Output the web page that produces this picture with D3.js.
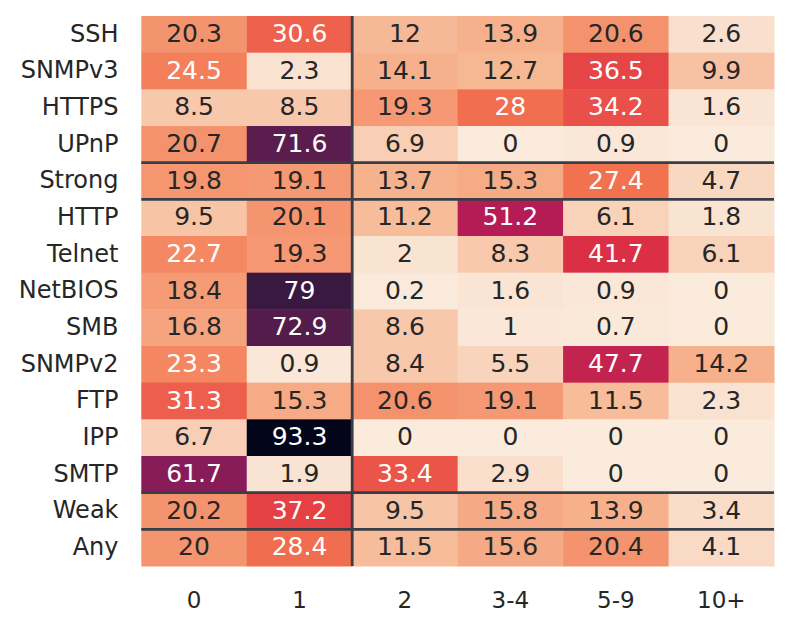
<!DOCTYPE html>
<html>
<head>
<meta charset="utf-8">
<script src="https://cdn.jsdelivr.net/npm/d3@7"></script>
<style>
  body { margin: 0; background: #fff; }
  text { font-family: "DejaVu Sans", sans-serif; }
</style>
</head>
<body>
<div id="chart"></div>
<script>
// rows, columns and the cell values (percent)
var rows = ["SSH", "SNMPv3", "HTTPS", "UPnP", "Strong", "HTTP", "Telnet", "NetBIOS", "SMB", "SNMPv2", "FTP", "IPP", "SMTP", "Weak", "Any"];
var cols = ["0", "1", "2", "3-4", "5-9", "10+"];
var values = [
  [20.3, 30.6, 12, 13.9, 20.6, 2.6],
  [24.5, 2.3, 14.1, 12.7, 36.5, 9.9],
  [8.5, 8.5, 19.3, 28, 34.2, 1.6],
  [20.7, 71.6, 6.9, 0, 0.9, 0],
  [19.8, 19.1, 13.7, 15.3, 27.4, 4.7],
  [9.5, 20.1, 11.2, 51.2, 6.1, 1.8],
  [22.7, 19.3, 2, 8.3, 41.7, 6.1],
  [18.4, 79, 0.2, 1.6, 0.9, 0],
  [16.8, 72.9, 8.6, 1, 0.7, 0],
  [23.3, 0.9, 8.4, 5.5, 47.7, 14.2],
  [31.3, 15.3, 20.6, 19.1, 11.5, 2.3],
  [6.7, 93.3, 0, 0, 0, 0],
  [61.7, 1.9, 33.4, 2.9, 0, 0],
  [20.2, 37.2, 9.5, 15.8, 13.9, 3.4],
  [20, 28.4, 11.5, 15.6, 20.4, 4.1]
];
// group separators drawn after these rows / columns
var rowBreaks = ["UPnP", "Strong", "SMTP", "Weak"];
var colBreaks = ["1"];

var width = 790, height = 628;
var mLeft = 141.3, mTop = 16, mRight = 774, mBottom = 566;

var svg = d3.select("#chart")
  .append("svg")
  .attr("width", width)
  .attr("height", height);

var x = d3.scaleBand().domain(cols).range([mLeft, mRight]);
var y = d3.scaleBand().domain(rows).range([mTop, mBottom]);

// rocket colormap, reversed (0 -> light, max -> dark)
var vmax = d3.max(values, function(r) { return d3.max(r); });
var rocket = d3.scaleLinear()
  .domain([0, 1/7, 2/7, 3/7, 4/7, 5/7, 6/7, 1])
  .range(["#03051a", "#35193e", "#701f57", "#ad1759", "#e13342", "#f37651", "#f6b48f", "#faebdd"])
  .interpolate(d3.interpolateRgb);
var color = function(v) { return rocket(1 - v / vmax); };

function lum(c) {
  var rgb = d3.rgb(c);
  var f = function(u) { u = u / 255; return u <= 0.03928 ? u / 12.92 : Math.pow((u + 0.055) / 1.055, 2.4); };
  return 0.2126 * f(rgb.r) + 0.7152 * f(rgb.g) + 0.0722 * f(rgb.b);
}

var cells = [];
values.forEach(function(r, i) {
  r.forEach(function(v, j) { cells.push({row: rows[i], col: cols[j], value: v}); });
});

svg.selectAll("rect.cell")
  .data(cells)
  .enter()
  .append("rect")
    .attr("class", "cell")
    .attr("x", function(d) { return x(d.col); })
    .attr("y", function(d) { return y(d.row); })
    .attr("width", x.bandwidth() + 0.5)
    .attr("height", y.bandwidth() + 0.5)
    .attr("fill", function(d) { return color(d.value); });

svg.selectAll("text.annot")
  .data(cells)
  .enter()
  .append("text")
    .attr("class", "annot")
    .attr("x", function(d) { return x(d.col) + x.bandwidth() / 2; })
    .attr("y", function(d) { return y(d.row) + y.bandwidth() / 2 + 7.6; })
    .attr("text-anchor", "middle")
    .style("font-size", "25px")
    .style("fill", function(d) { return lum(color(d.value)) > 0.408 ? "#262626" : "#ffffff"; })
    .text(function(d) { return d.value; });

// separators
svg.selectAll("line.hsep")
  .data(rowBreaks)
  .enter()
  .append("line")
    .attr("x1", mLeft).attr("x2", mRight)
    .attr("y1", function(d) { return y(d) + y.bandwidth(); })
    .attr("y2", function(d) { return y(d) + y.bandwidth(); })
    .attr("stroke", "#383e48")
    .attr("stroke-width", 2.8);

svg.selectAll("line.vsep")
  .data(colBreaks)
  .enter()
  .append("line")
    .attr("y1", mTop).attr("y2", mBottom)
    .attr("x1", function(d) { return x(d) + x.bandwidth(); })
    .attr("x2", function(d) { return x(d) + x.bandwidth(); })
    .attr("stroke", "#383e48")
    .attr("stroke-width", 2.8);

// axis labels
svg.selectAll("text.rowlab")
  .data(rows)
  .enter()
  .append("text")
    .attr("class", "rowlab")
    .attr("x", 118.5)
    .attr("y", function(d) { return y(d) + y.bandwidth() / 2 + 7.4; })
    .attr("text-anchor", "end")
    .style("font-size", "24px")
    .style("fill", "#262626")
    .text(function(d) { return d; });

svg.selectAll("text.collab")
  .data(cols)
  .enter()
  .append("text")
    .attr("class", "collab")
    .attr("x", function(d) { return x(d) + x.bandwidth() / 2; })
    .attr("y", 607.5)
    .attr("text-anchor", "middle")
    .style("font-size", "23px")
    .style("fill", "#262626")
    .text(function(d) { return d; });
</script>
</body>
</html>
